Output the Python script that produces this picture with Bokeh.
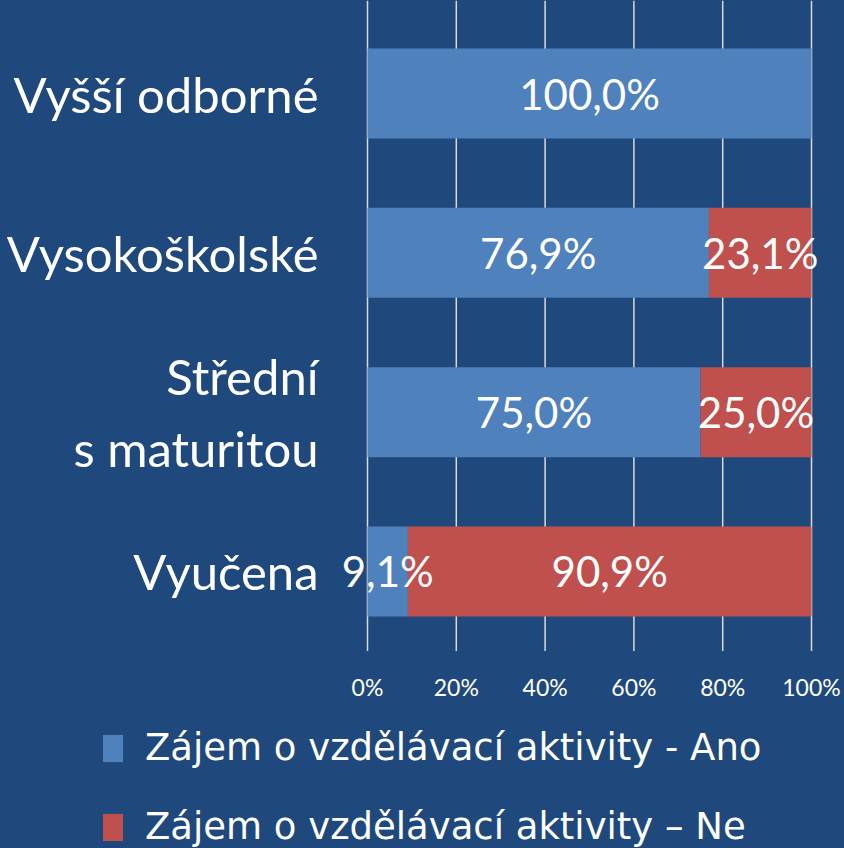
from bokeh.plotting import figure
from bokeh.models import (ColumnDataSource, Range1d, Legend, LegendItem, GlobalInlineStyleSheet)
from bokeh.core.properties import value
from bokeh.embed import file_html
from bokeh.resources import INLINE

categories = ["Vyšší odborné", "Vysokoškolské", "Střední\ns maturitou", "Vyučena"]
ano = [100.0, 76.9, 75.0, 9.1]
ne = [0.0, 23.1, 25.0, 90.9]
x_ticks = [0, 0.2, 0.4, 0.6, 0.8, 1.0]
series_names = ["Zájem o vzdělávací aktivity - Ano", "Zájem o vzdělávací aktivity \u2013 Ne"]

BG = "#1F497D"
BLUE = "#4F81BD"
RED = "#C0504D"
GRID = "#D9D9D9"
FONT = "Lato"
LEGEND_FONT = "DejaVu Sans"

W, H = 844, 848
# pixel geometry of the plot area inside the canvas
x0_px, x1_px = 367, 811          # 0% .. 100%
unit = 159.3                     # px per category
top_pad = 13.4                   # px above first category band

idx = list(range(len(categories)))
px_per_x = x1_px - x0_px
x_start = -x0_px / px_per_x
x_end = (W - x0_px) / px_per_x
y_top = -0.5 - top_pad / unit
y_bot = y_top + H / unit
band_end = len(categories) - 0.5

p = figure(width=W, height=H, output_backend="svg", toolbar_location=None,
           x_range=Range1d(x_start, x_end), y_range=Range1d(y_bot, y_top),
           x_axis_type=None, y_axis_type=None, min_border=0)
p.stylesheets = [GlobalInlineStyleSheet(css="html,body{margin:0;padding:0;background:%s;overflow:hidden}" % BG)]
p.background_fill_color = BG
p.border_fill_color = BG
p.outline_line_color = None
p.grid.visible = False

# vertical gridlines
p.segment(x0=x_ticks, x1=x_ticks, y0=[y_top] * len(x_ticks), y1=[band_end] * len(x_ticks),
          line_color=GRID, line_width=1.5)

a_frac = [v / 100 for v in ano]
n_frac = [v / 100 for v in ne]
src = ColumnDataSource(dict(
    y=idx,
    a_left=[0] * len(idx), a_right=a_frac,
    n_left=a_frac, n_right=[a + n for a, n in zip(a_frac, n_frac)],
))
bar_h = 90 / unit
r_a = p.hbar(y="y", left="a_left", right="a_right", height=bar_h, source=src,
             fill_color=BLUE, line_color=None)
r_n = p.hbar(y="y", left="n_left", right="n_right", height=bar_h, source=src,
             fill_color=RED, line_color=None)

def fmt(v):
    return ("%.1f%%" % v).replace(".", ",")

lx, ly, lt = [], [], []
for i in idx:
    if ano[i] > 0:
        lx.append(a_frac[i] / 2); ly.append(i); lt.append(fmt(ano[i]))
    if ne[i] > 0:
        lx.append(a_frac[i] + n_frac[i] / 2); ly.append(i); lt.append(fmt(ne[i]))
lsrc = ColumnDataSource(dict(x=lx, y=ly, t=lt))
p.text(x="x", y="y", text="t", source=lsrc, text_align="center", text_baseline="middle",
       text_color="white", text_font=value(FONT), text_font_size="42px")

# category labels (left)
cat_x = -49 / px_per_x
p.text(x=[cat_x] * len(idx), y=idx, text=categories, text_align="right", text_baseline="middle",
       text_color="white", text_font=value(FONT), text_font_size="49px", text_line_height=1.25)

# x tick labels
tick_y = band_end + 36 / unit
p.text(x=x_ticks, y=[tick_y] * len(x_ticks), text=["%d%%" % round(t * 100) for t in x_ticks],
       text_align="center", text_baseline="middle",
       text_color="white", text_font=value(FONT), text_font_size="23px")

legend = Legend(items=[LegendItem(label=series_names[0], renderers=[r_a]),
                       LegendItem(label=series_names[1], renderers=[r_n])],
                location=(100, 0), orientation="vertical",
                glyph_width=25, glyph_height=34, label_standoff=20,
                label_text_color="white", label_text_font=LEGEND_FONT, label_text_font_size="37px",
                label_height=42, spacing=36, padding=0, margin=0,
                border_line_color=None, background_fill_alpha=0)
p.add_layout(legend, "center")

open("out.html", "w").write(file_html(p, INLINE))
